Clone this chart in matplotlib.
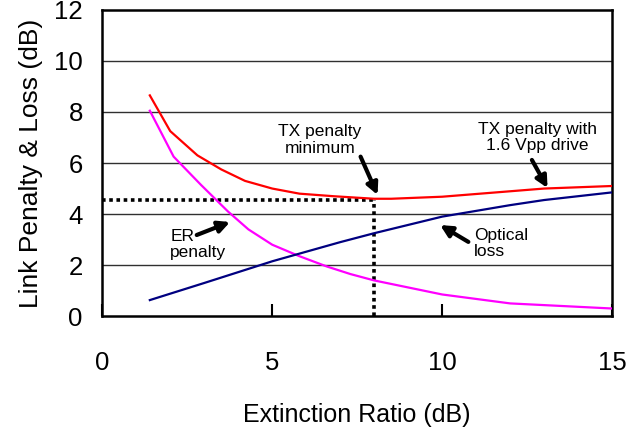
import numpy as np
import matplotlib.pyplot as plt

plt.rcParams['font.family'] = ['Liberation Sans', 'DejaVu Sans']

# TX penalty (1.6 Vpp drive)
tx_x = [1.4, 2.0, 2.8, 3.5, 4.2, 5.0, 5.8, 6.8, 8.0, 8.5, 10.0, 13.0, 15.0]
tx_y = [8.65, 7.25, 6.3, 5.75, 5.3, 5.0, 4.8, 4.7, 4.6, 4.6, 4.68, 5.0, 5.1]

# ER penalty
er_x = [1.4, 2.1, 2.9, 3.7, 4.3, 5.0, 5.8, 6.6, 7.3, 8.0, 10.0, 12.0, 15.0]
er_y = [8.05, 6.25, 5.15, 4.1, 3.4, 2.8, 2.35, 1.95, 1.65, 1.4, 0.85, 0.5, 0.3]

# optical loss
ol_x = [1.4, 3.0, 5.0, 7.0, 8.0, 10.0, 12.0, 13.0, 15.0]
ol_y = [0.63, 1.3, 2.15, 2.9, 3.25, 3.9, 4.35, 4.55, 4.85]

# TX penalty minimum
min_x = 8.0
min_y = 4.57

fig = plt.figure(figsize=(6.43, 4.29), dpi=100)
ax = fig.add_axes([0.159, 0.263, 0.793, 0.714])

for y in [2, 4, 6, 8, 10]:
    ax.axhline(y, color='#303030', lw=1.0, zorder=1)

ax.plot(tx_x, tx_y, color='#FF0000', lw=1.6, zorder=3)
ax.plot(er_x, er_y, color='#FF00FF', lw=1.6, zorder=3)
ax.plot(ol_x, ol_y, color='#000080', lw=1.6, zorder=3)

# dotted guide lines to the minimum
ax.plot([0, min_x], [min_y, min_y], color='black', lw=2.6, ls=(0, (1, 1)), zorder=2)
ax.plot([min_x, min_x], [0, min_y], color='black', lw=2.6, ls=(0, (1, 1)), zorder=2)

arrow = dict(arrowstyle='-|>', color='black', lw=3, mutation_scale=17, shrinkA=0, shrinkB=0)
fs = 12.5
ax.annotate('TX penalty\nminimum', xy=(8.1, 4.75), xytext=(6.4, 6.9),
            ha='center', va='center', fontsize=fs, linespacing=1.1)
ax.annotate('', xy=(8.1, 4.75), xytext=(7.6, 6.25), arrowprops=arrow)

ax.annotate('TX penalty with\n1.6 Vpp drive', xy=(13.1, 5.02), xytext=(12.8, 7.0),
            ha='center', va='center', fontsize=fs, linespacing=1.1)
ax.annotate('', xy=(13.1, 5.02), xytext=(12.64, 6.12), arrowprops=arrow)

ax.text(2.0, 2.82, 'ER\npenalty', ha='left', va='center', fontsize=fs, linespacing=1.1)
ax.annotate('', xy=(3.76, 3.69), xytext=(2.78, 3.18), arrowprops=arrow)

ax.text(10.94, 2.84, 'Optical\nloss', ha='left', va='center', fontsize=fs, linespacing=1.1)
ax.annotate('', xy=(9.94, 3.57), xytext=(10.77, 2.91), arrowprops=arrow)

ax.set_xlim(0, 15)
ax.set_ylim(0, 12)
ax.set_xticks([0, 5, 10, 15])
ax.set_yticks([0, 2, 4, 6, 8, 10, 12])
ax.tick_params(axis='x', direction='in', length=9, width=1.5, pad=25, labelsize=18.5)
ax.tick_params(axis='y', length=0, pad=14, labelsize=18.5)
for s in ax.spines.values():
    s.set_linewidth(1.8)

ax.set_xlabel('Extinction Ratio (dB)', fontsize=18, labelpad=20)
ax.set_ylabel('Link Penalty & Loss (dB)', fontsize=19, labelpad=8)

fig.savefig('out.png', dpi=100)
